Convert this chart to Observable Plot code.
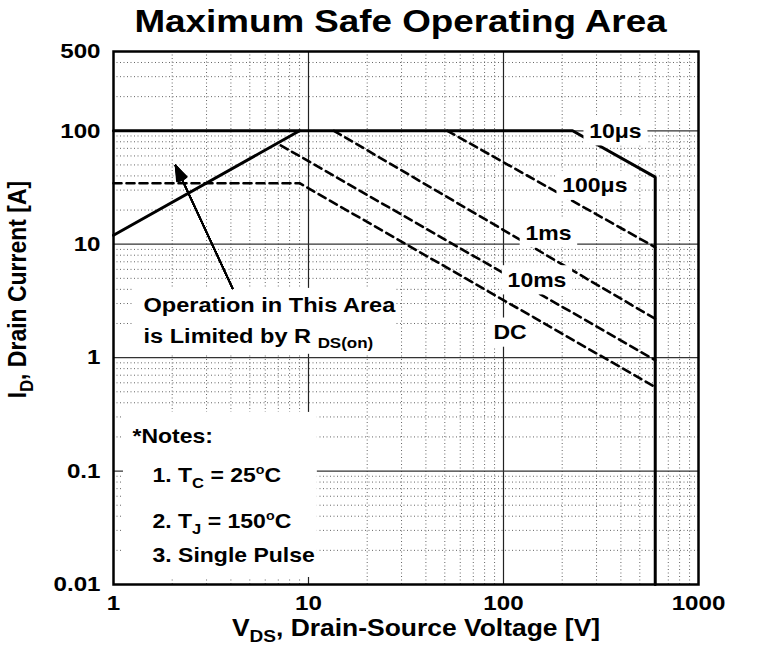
<!DOCTYPE html>
<html><head><meta charset="utf-8">
<script src="https://cdn.jsdelivr.net/npm/d3@7"></script>
<script src="https://cdn.jsdelivr.net/npm/@observablehq/plot@0.6"></script>
<style>body{margin:0;background:#fff;} svg{display:block}</style>
</head><body><div id="chart"></div>
<script>
// ---------------- data ----------------
const xTicks = [1, 10, 100, 1000];
const xTickLabels = ["1", "10", "100", "1000"];
const yTicks = [0.01, 0.1, 1, 10, 100, 500];
const yTickLabels = ["0.01", "0.1", "1", "10", "100", "500"];
const xMajor = [10, 100];
const yMajor = [0.1, 1, 10, 100];
const xMinor = [2,3,4,5,6,7,8,9,20,30,40,50,60,70,80,90,200,300,400,500,600,700,800,900];
const yMinor = [0.02,0.03,0.04,0.05,0.06,0.07,0.08,0.09,0.2,0.3,0.4,0.5,0.6,0.7,0.8,0.9,
                2,3,4,5,6,7,8,9,20,30,40,50,60,70,80,90,200,300,400];

// curves: V_DS (V) and I_D (A)
const rdsV   = [1, 9.0];             const rdsI   = [12, 100];
const us10V  = [1, 226, 600, 600];   const us10I  = [100, 100, 39, 0.01];
const us100V = [51.5, 600];          const us100I = [100, 9.4];
const ms1V   = [13.5, 600];          const ms1I   = [100, 2.2];
const ms10V  = [7.2, 600];           const ms10I  = [74.5, 0.95];
const dcV    = [1, 9.0, 600];        const dcI    = [34.5, 34.5, 0.55];

const curveLabels = ["10\u03bcs", "100\u03bcs", "1ms", "10ms", "DC"];
const curveLabelV = [375, 294, 170, 148.5, 108];
const curveLabelI = [98.8, 32.7, 12.45, 4.8, 1.66];

const rdsNote  = ["Operation in This Area", "is Limited by R _{DS(on)}"];
const rdsNoteV = [1.425, 1.425];
const rdsNoteI = [2.86, 1.553];

const noteLines = ["*Notes:", "1. T_{C} = 25^{o}C", "2. T_{J} = 150^{o}C", "3. Single Pulse"];
const noteV = [1.251, 1.585, 1.585, 1.585];
const noteI = [0.2, 0.0905, 0.0356, 0.018];

const boxV1 = [1.125, 1.25];
const boxV2 = [11.1, 27.9];
const boxI1 = [0.01153, 1.07];
const boxI2 = [0.329, 4.08];

const arrowFrom = [4.08, 4.08];
const arrowTo = [2.08, 49.5];

const titleText = "Maximum Safe Operating Area";
const xLabel = "V_{DS}, Drain-Source Voltage [V]";
const yLabel = "I_{D}, Drain Current [A]";

// ---------------- build tables ----------------
const toRows = (name, V, I) => V.map((v, k) => ({s: name, v, i: I[k]}));
const solidRows = [...toRows("rds", rdsV, rdsI), ...toRows("10us", us10V, us10I)];
const dashedRows = [
  ...toRows("100us", us100V, us100I),
  ...toRows("1ms", ms1V, ms1I),
  ...toRows("10ms", ms10V, ms10I),
  ...toRows("dc", dcV, dcI)
];
const labelRows = curveLabels.map((t, k) => ({t, v: curveLabelV[k], i: curveLabelI[k]}));
const rdsNoteRows = rdsNote.map((t, k) => ({t, v: rdsNoteV[k], i: rdsNoteI[k]}));
const noteRows = noteLines.map((t, k) => ({t, v: noteV[k], i: noteI[k]}));
const boxRows = boxV1.map((v, k) => ({x1: v, x2: boxV2[k], y1: boxI1[k], y2: boxI2[k]}));
const arrowRows = [{x1: arrowFrom[0], y1: arrowFrom[1], x2: arrowTo[0], y2: arrowTo[1]}];
const yTickRows = yTicks.map((v, k) => ({v, t: yTickLabels[k]}));
const headAngles = [4, 8, 12, 16, 20, 24, 28, 32, 36, 40];

const FONT = "'Liberation Sans', Arial, Helvetica, sans-serif";

const chart = Plot.plot({
  width: 763,
  height: 659,
  marginLeft: 113,
  marginRight: 65,
  marginTop: 51,
  marginBottom: 75,
  style: {fontFamily: FONT, fontSize: "21px", fontWeight: "bold", background: "white", color: "black", overflow: "visible"},
  x: {type: "log", domain: [1, 1000], ticks: xTicks, tickFormat: d => xTickLabels[xTicks.indexOf(d)], tickSize: 0, tickPadding: 11, label: null},
  y: {type: "log", domain: [0.01, 500], axis: null},
  marks: [
    Plot.ruleX(xMinor, {stroke: "#666", strokeDasharray: "1,2.5", strokeWidth: 1}),
    Plot.ruleY(yMinor, {stroke: "#666", strokeDasharray: "1,2.5", strokeWidth: 1}),
    Plot.ruleX(xMajor, {stroke: "#222", strokeWidth: 1.2}),
    Plot.ruleY(yMajor, {stroke: "#333", strokeWidth: 1.2}),
    Plot.rect(boxRows, {x1: "x1", x2: "x2", y1: "y1", y2: "y2", fill: "white"}),
    Plot.line(dashedRows, {x: "v", y: "i", z: "s", stroke: "black", strokeWidth: 2.6, strokeDasharray: "8,5"}),
    Plot.line(solidRows, {x: "v", y: "i", z: "s", stroke: "black", strokeWidth: 3, strokeLinejoin: "miter"}),
    ...headAngles.map(a => Plot.arrow(arrowRows, {x1: "x1", y1: "y1", x2: "x2", y2: "y2", stroke: "black", strokeWidth: 1.6, headAngle: a, headLength: 15})),
    Plot.text(labelRows, {x: "v", y: "i", text: "t", fontSize: 20, textAnchor: "middle", lineAnchor: "middle", fill: "black"}),
    Plot.text(rdsNoteRows, {x: "v", y: "i", text: "t", fontSize: 20.5, textAnchor: "start", lineAnchor: "middle", fill: "black"}),
    Plot.text(noteRows, {x: "v", y: "i", text: "t", fontSize: 20, textAnchor: "start", lineAnchor: "middle", fill: "black"}),
    Plot.frame({stroke: "black", strokeWidth: 2.5}),
    Plot.text(yTickRows, {y: "v", text: "t", frameAnchor: "left", dx: -13, textAnchor: "end", lineAnchor: "middle", fontSize: 21, fill: "black"}),
    Plot.text([titleText], {frameAnchor: "top", dy: -29.5, dx: -5.5, lineAnchor: "middle", textAnchor: "middle", fontSize: 32, fill: "black"}),
    Plot.text([xLabel], {frameAnchor: "bottom", dy: 44, dx: 10, lineAnchor: "middle", textAnchor: "middle", fontSize: 23, fill: "black"}),
    Plot.text([yLabel], {frameAnchor: "left", dx: -96, dy: -28.5, rotate: -90, lineAnchor: "middle", textAnchor: "middle", fontSize: 23, fill: "black"})
  ]
});
document.getElementById("chart").appendChild(chart);

// ---------------- post-processing: sub/superscripts, width, label boxes ----------------
const NS = "http://www.w3.org/2000/svg";
function applyMarkup(el) {
  const s = el.textContent;
  if (!/[_^]\{/.test(s)) return;
  const fs = parseFloat(getComputedStyle(el).fontSize) || 20;
  el.textContent = "";
  const re = /([_^])\{([^}]*)\}/g;
  let last = 0, m, shift = 0;
  const add = (str, dy, small) => {
    const t = document.createElementNS(NS, "tspan");
    t.textContent = str;
    if (dy) t.setAttribute("dy", dy);
    if (small) t.setAttribute("font-size", small);
    el.appendChild(t);
  };
  while ((m = re.exec(s))) {
    if (m.index > last) { add(s.slice(last, m.index), -shift, null); shift = 0; }
    const d = m[1] === "_" ? 0.28 * fs : -0.42 * fs;
    add(m[2], d - shift, (m[1] === "_" ? 0.72 : 0.62) * fs);
    shift = d;
    last = re.lastIndex;
  }
  if (last < s.length) add(s.slice(last), -shift, null);
}
const svg = chart.tagName.toLowerCase() === "svg" ? chart : chart.querySelector("svg");
const labelTexts = new Set(curveLabels);
svg.querySelectorAll("text").forEach(t => {
  applyMarkup(t);
  const tr = t.getAttribute("transform") || "";
  t.setAttribute("transform", tr + (tr.includes("rotate") ? " scale(1,1.15)" : " scale(1.15,1)"));
});
svg.querySelectorAll("text").forEach(t => {
  if (!labelTexts.has(t.textContent)) return;
  const b = t.getBBox();
  const r = document.createElementNS(NS, "rect");
  r.setAttribute("x", b.x - 5);
  r.setAttribute("y", b.y - 3);
  r.setAttribute("width", b.width + 10);
  r.setAttribute("height", b.height + 6);
  r.setAttribute("fill", "white");
  r.setAttribute("stroke", "none");
  const tr = t.getAttribute("transform");
  if (tr) r.setAttribute("transform", tr);
  t.parentNode.insertBefore(r, t);
});
</script>
</body></html>
